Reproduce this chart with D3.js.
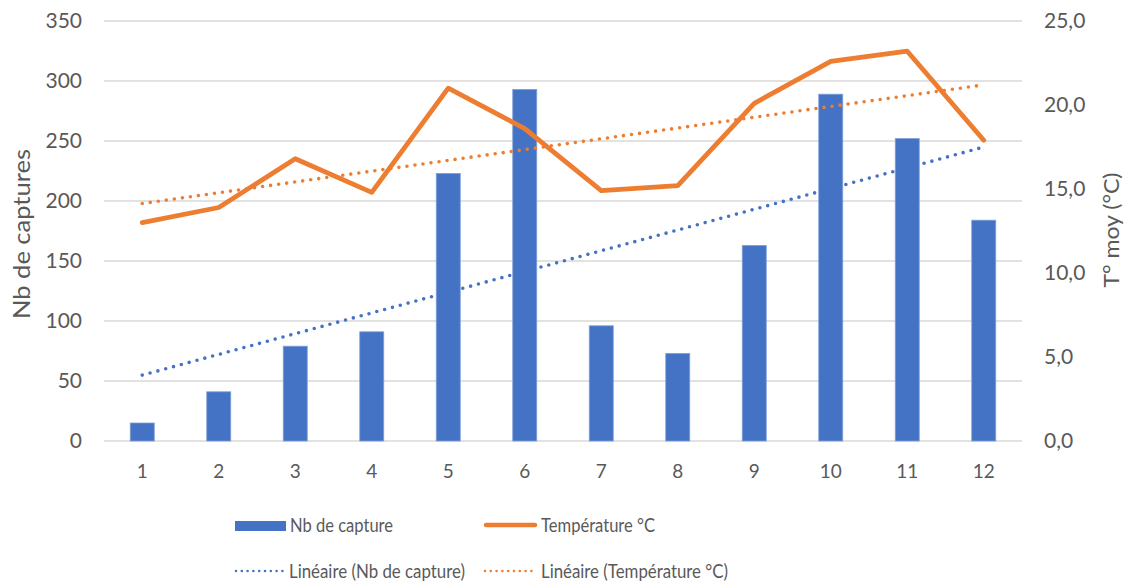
<!DOCTYPE html>
<html><head><meta charset="utf-8">
<script src="https://cdn.jsdelivr.net/npm/d3@7/dist/d3.min.js"></script>
<style>body{margin:0;background:#fff;} text{font-family:Lato,"Liberation Sans",sans-serif;fill:#595959;}</style>
</head><body>
<svg id="c" width="1127" height="583"></svg>
<script>
const categories = [1,2,3,4,5,6,7,8,9,10,11,12];
const captures = [15,41,79,91,223,293,96,73,163,289,252,184];
const temperature = [13.0,13.9,16.8,14.8,21.0,18.6,14.9,15.2,20.1,22.6,23.2,17.9];
const leftTicks = [0,50,100,150,200,250,300,350];
const rightTicks = [0,5,10,15,20,25];

const svg = d3.select("#c");
const L=104, R=1022, T=21, B=441;
const x = d3.scaleBand().domain(categories).range([L,R]).padding(0);
const yL = d3.scaleLinear().domain([0,350]).range([B,T]);
const yR = d3.scaleLinear().domain([0,25]).range([B,T]);
const cx = d => x(d)+x.bandwidth()/2;

// gridlines
svg.append("g").selectAll("line").data(leftTicks).join("line")
  .attr("x1",L).attr("x2",R).attr("y1",d=>yL(d)).attr("y2",d=>yL(d))
  .attr("stroke","#d9d9d9").attr("stroke-width",1.3);

const axL = svg.append("g").attr("transform",`translate(${L},0)`)
  .call(d3.axisLeft(yL).tickValues(leftTicks).tickSize(0).tickPadding(22));
const axR = svg.append("g").attr("transform",`translate(${R},0)`)
  .call(d3.axisRight(yR).tickValues(rightTicks).tickSize(0).tickPadding(22)
    .tickFormat(d=>d3.format(".1f")(d).replace(".",",")));
const axB = svg.append("g").attr("transform",`translate(0,${B})`)
  .call(d3.axisBottom(x).tickSize(0).tickPadding(24));
[axL,axR,axB].forEach(a=>{a.select(".domain").remove(); a.selectAll("text").style("fill","#595959").style("font-family","Lato");});
axL.selectAll("text").style("font-size","21px");
axR.selectAll("text").style("font-size","21px");
axB.selectAll("text").style("font-size","19px");

// bars
const bw = 24;
svg.append("g").selectAll("rect").data(categories).join("rect")
  .attr("x",(d)=>cx(d)-bw/2).attr("width",bw)
  .attr("y",(d,i)=>yL(captures[i])).attr("height",(d,i)=>B-yL(captures[i]))
  .attr("fill","#4472c4").attr("stroke","#7f9fd8").attr("stroke-width",0.8);

// regressions
function fit(xs, ys){
  const mx=d3.mean(xs), my=d3.mean(ys);
  let sxy=0,sxx=0; xs.forEach((v,i)=>{sxy+=(v-mx)*(ys[i]-my); sxx+=(v-mx)**2;});
  const b=sxy/sxx, a=my-b*mx; return v=>a+b*v;
}
const fC = fit(categories,captures), fT = fit(categories,temperature);
const x0=categories[0], x1=categories[categories.length-1];

svg.append("line").attr("x1",cx(x0)).attr("x2",cx(x1))
  .attr("y1",yL(fC(x0))).attr("y2",yL(fC(x1)))
  .attr("stroke","#4472c4").attr("stroke-width",3.6).attr("stroke-linecap","round").attr("stroke-dasharray","0 8.1");

svg.append("path").datum(categories)
  .attr("d",d3.line().x(d=>cx(d)).y((d,i)=>yR(temperature[i])))
  .attr("fill","none").attr("stroke","#ed7d31").attr("stroke-width",4.8).attr("stroke-linejoin","round").attr("stroke-linecap","round");

svg.append("line").attr("x1",cx(x0)).attr("x2",cx(x1))
  .attr("y1",yR(fT(x0))).attr("y2",yR(fT(x1)))
  .attr("stroke","#ed7d31").attr("stroke-width",3.6).attr("stroke-linecap","round").attr("stroke-dasharray","0 8.1");

// axis titles
svg.append("text").attr("transform","translate(30,234) rotate(-90)").attr("text-anchor","middle")
  .style("font-size","23px").attr("textLength",170).attr("lengthAdjust","spacingAndGlyphs").text("Nb de captures");
svg.append("text").attr("transform","translate(1119,230) rotate(-90)").attr("text-anchor","middle")
  .style("font-size","22px").attr("textLength",115).attr("lengthAdjust","spacingAndGlyphs").text("T° moy (°C)");

// legend
const lg = svg.append("g").style("font-size","19.5px");
lg.append("rect").attr("x",235).attr("y",521).attr("width",51).attr("height",10).attr("fill","#4472c4");
lg.append("text").attr("x",290).attr("y",532).attr("textLength",103).attr("lengthAdjust","spacingAndGlyphs").text("Nb de capture");
lg.append("line").attr("x1",486).attr("x2",535).attr("y1",525).attr("y2",525).attr("stroke","#ed7d31").attr("stroke-width",4.5).attr("stroke-linecap","round");
lg.append("text").attr("x",541).attr("y",532).attr("textLength",114).attr("lengthAdjust","spacingAndGlyphs").text("Température °C");
lg.append("line").attr("x1",236).attr("x2",283).attr("y1",571).attr("y2",571).attr("stroke","#4472c4").attr("stroke-width",2.6).attr("stroke-linecap","round").attr("stroke-dasharray","0 5.8");
lg.append("text").attr("x",289).attr("y",578).attr("textLength",176).attr("lengthAdjust","spacingAndGlyphs").text("Linéaire (Nb de capture)");
lg.append("line").attr("x1",485).attr("x2",532).attr("y1",571).attr("y2",571).attr("stroke","#ed7d31").attr("stroke-width",2.6).attr("stroke-linecap","round").attr("stroke-dasharray","0 5.8");
lg.append("text").attr("x",541).attr("y",578).attr("textLength",187).attr("lengthAdjust","spacingAndGlyphs").text("Linéaire (Température °C)");
</script>
</body></html>
